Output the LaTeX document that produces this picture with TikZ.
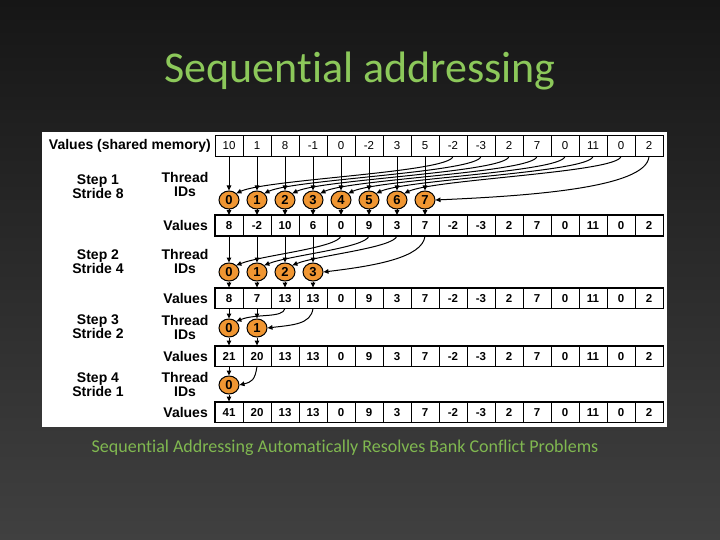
\documentclass[tikz,border=0pt]{standalone}
\usepackage{fontspec}
\setmainfont{Liberation Sans}
\newfontfamily\carlfont[Ligatures=NoCommon]{Carlito}
\usetikzlibrary{arrows.meta,shapes.geometric}
\definecolor{titlegreen}{RGB}{140,200,90}
\definecolor{subgreen}{RGB}{128,184,80}
\definecolor{bgtop}{RGB}{22,22,22}
\definecolor{bgbot}{RGB}{64,64,64}
\definecolor{idorange}{RGB}{240,150,50}
\begin{document}
\begin{tikzpicture}[x=1pt,y=-1pt,
  cell/.style={draw, line width=0.8pt, minimum width=28pt, minimum height=20pt, inner sep=0pt, text height=8.2pt, text depth=0pt, font=\fontsize{11.5}{12}\selectfont\bfseries},
  topcell/.style={cell, minimum height=21pt, font=\fontsize{11.5}{12}\selectfont},
  tid/.style={ellipse, draw, line width=1pt, fill=idorange, minimum width=20pt, minimum height=18pt, inner sep=0pt, text height=9.2pt, text depth=0pt, font=\fontsize{13}{13}\selectfont\bfseries},
  lab/.style={font=\fontsize{14}{14}\selectfont\bfseries, align=center, inner sep=0pt},
  rowframe/.style={line width=1.6pt},
  arr/.style={line width=1pt, -{Triangle[length=5pt,width=4.5pt]}},
]
\useasboundingbox (0,0) rectangle (720,540);
\shade[top color=bgtop, bottom color=bgbot] (0,0) rectangle (720,540);
\fill[white] (42,132) rectangle (667,427);

\node[font=\carlfont\fontsize{44}{44}\selectfont, text=titlegreen, anchor=base] (title) at (360,83) {Sequential addressing};
\node[font=\carlfont\fontsize{18}{18}\selectfont, text=subgreen, anchor=base] (sub) at (345,452) {Sequential Addressing Automatically Resolves Bank Conflict Problems};

% labels
\node[lab, anchor=east] (vtop) at (211,145.5) {Values (shared memory)};
\node[lab] (st1) at (98,186.5) {Step 1\\Stride 8};
\node[lab] (th1) at (185,184.5) {Thread\\IDs};
\node[lab, anchor=east] (v1) at (208,225.5) {Values};
\node[lab] (st2) at (98,261.5) {Step 2\\Stride 4};
\node[lab] (th2) at (185,261) {Thread\\IDs};
\node[lab, anchor=east] (v2) at (208,298) {Values};
\node[lab] (st3) at (98,327) {Step 3\\Stride 2};
\node[lab] (th3) at (185,327.5) {Thread\\IDs};
\node[lab, anchor=east] (v3) at (208,356) {Values};
\node[lab] (st4) at (98,385) {Step 4\\Stride 1};
\node[lab] (th4) at (185,384.5) {Thread\\IDs};
\node[lab, anchor=east] (v4) at (208,412) {Values};

% rows
\foreach \v [count=\k from 0] in {10,1,8,-1,0,-2,3,5,-2,-3,2,7,0,11,0,2}
  \node[topcell] (t\k) at (229+28*\k,145.5) {\v};
\foreach \v [count=\k from 0] in {8,-2,10,6,0,9,3,7,-2,-3,2,7,0,11,0,2}
  \node[cell] (sa\k) at (229+28*\k,225.5) {\v};
\foreach \v [count=\k from 0] in {8,7,13,13,0,9,3,7,-2,-3,2,7,0,11,0,2}
  \node[cell] (sb\k) at (229+28*\k,298) {\v};
\foreach \v [count=\k from 0] in {21,20,13,13,0,9,3,7,-2,-3,2,7,0,11,0,2}
  \node[cell] (sc\k) at (229+28*\k,356) {\v};
\foreach \v [count=\k from 0] in {41,20,13,13,0,9,3,7,-2,-3,2,7,0,11,0,2}
  \node[cell] (sd\k) at (229+28*\k,412) {\v};
\draw[rowframe] (sa0.north west) rectangle (sa15.south east);
\draw[rowframe] (sb0.north west) rectangle (sb15.south east);
\draw[rowframe] (sc0.north west) rectangle (sc15.south east);
\draw[rowframe] (sd0.north west) rectangle (sd15.south east);

% thread ids
\foreach \k in {0,...,7} \node[tid] (ca\k) at (229+28*\k,200) {\k};
\foreach \k in {0,...,3} \node[tid] (cb\k) at (229+28*\k,272) {\k};
\foreach \k in {0,1} \node[tid] (cc\k) at (229+28*\k,328) {\k};
\node[tid] (cd0) at (229,385) {0};

% step 1
\foreach \k in {0,...,7} {
  \draw[arr] (t\k.south) -- (ca\k.north);
  \draw[arr] (ca\k.south) -- (sa\k.north);
}
\foreach \k [evaluate=\k as \j using int(\k+8)] in {0,...,6}
  \draw[arr] (t\j.south) .. controls +(-3,16) and +(30,-14) .. (ca\k.north east);
\draw[arr] (t15.south) .. controls +(-2,32) and +(90,-4) .. (ca7.east);

% step 2
\foreach \k in {0,...,3} {
  \draw[arr] (sa\k.south) -- (cb\k.north);
  \draw[arr] (cb\k.south) -- (sb\k.north);
}
\foreach \k [evaluate=\k as \j using int(\k+4)] in {0,1,2}
  \draw[arr] (sa\j.south) .. controls +(-3,12) and +(25,-10) .. (cb\k.north east);
\draw[arr] (sa7.south) .. controls +(-2,22) and +(50,-6) .. (cb3.east);

% step 3
\foreach \k in {0,1} {
  \draw[arr] (sb\k.south) -- (cc\k.north);
  \draw[arr] (cc\k.south) -- (sc\k.north);
}
\draw[arr] (sb2.south) .. controls +(-2,10) and +(20,-8) .. (cc0.north east);
\draw[arr] (sb3.south) .. controls +(-2,16) and +(25,-3) .. (cc1.east);

% step 4
\draw[arr] (sc0.south) -- (cd0.north);
\draw[arr] (cd0.south) -- (sd0.north);
\draw[arr] (sc1.south) .. controls +(-2,14) and +(12,-3) .. (cd0.east);
\end{tikzpicture}
\end{document}
